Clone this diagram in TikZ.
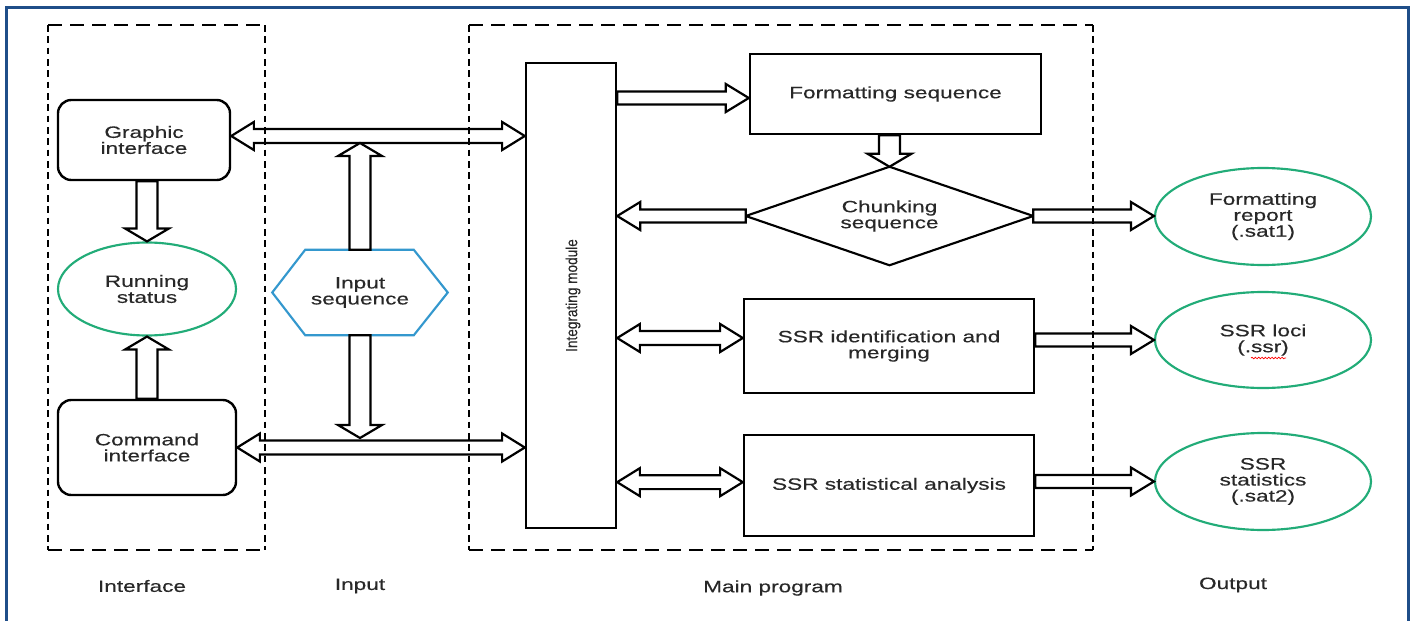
\documentclass[tikz,border=0pt]{standalone}
\usepackage{fontspec}
\setmainfont{Liberation Sans}[FakeStretch=1.38, FakeBold=0.35]
\newfontfamily\narrowf{Liberation Sans}[FakeStretch=0.85, FakeBold=0.3]
\usetikzlibrary{calc,shapes.geometric,decorations.pathmorphing}
\definecolor{frameblue}{RGB}{31,78,137}
\definecolor{okgreen}{RGB}{34,172,120}
\definecolor{hexblue}{RGB}{52,152,206}
\definecolor{txt}{RGB}{40,40,40}
\tikzset{
  blockarrow/.style={draw=black, fill=white, line width=1.65pt, line join=miter},
  pbox/.style={draw=black, line width=1.8pt},
  rbox/.style={draw=black, line width=1.8pt, rounded corners=10pt},
  oval/.style={ellipse, draw=okgreen, line width=1.6pt, minimum width=162pt, minimum height=72.75pt},
  hdash/.style={line width=2.1pt, dash pattern=on 10.5pt off 6pt},
  vdash/.style={line width=2.1pt, dash pattern=on 5pt off 3.5pt},
}
% single-headed block arrow: from, to, shaft half-width, head half-width, head length
\newcommand\onearrow[5]{%
  \coordinate (baA) at #1;
  \coordinate (baB) at #2;
  \coordinate (baH) at ($(baB)!#5!(baA)$);
  \draw[blockarrow] ($(baA)!#3!90:(baB)$) -- ($(baH)!#3!-90:(baA)$) -- ($(baH)!#4!-90:(baA)$)
    -- (baB) -- ($(baH)!#4!90:(baA)$) -- ($(baH)!#3!90:(baA)$) -- ($(baA)!#3!-90:(baB)$) -- cycle;
}
% double-headed block arrow
\newcommand\twoarrow[5]{%
  \coordinate (baA) at #1;
  \coordinate (baB) at #2;
  \coordinate (baH) at ($(baB)!#5!(baA)$);
  \coordinate (baG) at ($(baA)!#5!(baB)$);
  \draw[blockarrow] (baA) -- ($(baG)!#4!90:(baB)$) -- ($(baG)!#3!90:(baB)$)
    -- ($(baH)!#3!-90:(baA)$) -- ($(baH)!#4!-90:(baA)$) -- (baB)
    -- ($(baH)!#4!90:(baA)$) -- ($(baH)!#3!90:(baA)$)
    -- ($(baG)!#3!-90:(baB)$) -- ($(baG)!#4!-90:(baB)$) -- cycle;
}
\newcommand\harrow[2]{\onearrow{#1}{#2}{4.9pt}{10.5pt}{17.25pt}}
\newcommand\hdarrow[2]{\twoarrow{#1}{#2}{5.2pt}{10.5pt}{17pt}}
\newcommand\varrow[2]{\onearrow{#1}{#2}{7.9pt}{16.5pt}{9.75pt}}
\newcommand\dn[1]{\raisebox{-1.5pt}{#1}}
\begin{document}
\begin{tikzpicture}[x=0.75pt, y=-0.75pt,
  every node/.style={inner sep=0pt, text=txt, align=center, font=\fontsize{12.3}{12}\selectfont}]
\useasboundingbox (0,0) rectangle (1411,621);
\fill[white] (0,0) rectangle (1411,621);

% nodes
\node[rbox, minimum width=129pt, minimum height=60pt] (gi) at (144,140) {\dn{Graphic}\\\dn{interface}};
\node[oval, minimum width=133.5pt, minimum height=69.75pt] (rs) at (147,289) {Running\\status};
\node[rbox, minimum width=133.5pt, minimum height=71.25pt] (ci) at (147,447.5) {Command\\interface};
\node[minimum width=131.25pt, minimum height=63.75pt] (hex) at (360,292.5) {Input\\sequence};
\draw[hexblue, line width=1.6pt] ([xshift=24.75pt]hex.north west) -- ([xshift=-25.5pt]hex.north east)
  -- (hex.east) -- ([xshift=-25.5pt]hex.south east) -- ([xshift=24.75pt]hex.south west) -- (hex.west) -- cycle;
\node[pbox, minimum width=67.5pt, minimum height=348.75pt] (im) at (571,295.5) {};
\node[rotate=90, font=\narrowf\fontsize{12}{12}\selectfont] (imt) at ([xshift=1.5pt]im.center) {Integrating module};
\node[pbox, minimum width=218.25pt, minimum height=60pt] (fs) at (895.5,94) {Formatting sequence};
\node[minimum width=215.25pt, minimum height=73.5pt] (ch) at (889.5,216) {Chunking\\sequence};
\draw[line width=1.6pt, line join=miter] (ch.north) -- (ch.east) -- (ch.south) -- (ch.west) -- cycle;
\node[pbox, minimum width=217.5pt, minimum height=70.5pt] (si) at (889,346) {SSR identification and\\merging};
\node[pbox, minimum width=217.5pt, minimum height=75.75pt] (sa) at (889,485.5) {SSR statistical analysis};
\node[oval] (fr) at (1263,216.5) {\dn{Formatting}\\\dn{report}\\\dn{(.sat1)}};
\node[oval, minimum height=72pt] (sl) at (1263,340) {\dn{SSR loci}\\\dn{(.ssr)}};
\node[oval] (ss) at (1263,481.5) {\dn{SSR}\\\dn{statistics}\\\dn{(.sat2)}};
\draw[red, line width=0.5pt, decorate, decoration={snake, amplitude=0.6pt, segment length=2.5pt}] (1251,358) -- (1286,358);

% column labels
\node (lint) at (142,586) {Interface};
\node (linp) at (360,586) {Input};
\node (lmain) at (773,588) {Main program};
\node (lout) at (1233,585) {Output};

% connectors
\coordinate (gia) at ([yshift=3pt]gi.east);
\hdarrow{(gia)}{(im.west |- gia)}
\hdarrow{(ci.east)}{(im.west |- ci.east)}
\coordinate (gtop) at (360,143);
\coordinate (cbot) at (360,438);
\varrow{(hex.north)}{(gtop)}
\varrow{(hex.south)}{(cbot)}
\varrow{(rs.north |- gi.south)}{(rs.north)}
\varrow{(rs.south |- ci.north)}{(rs.south)}
\coordinate (fsw) at ([yshift=-3pt]fs.west);
\harrow{(im.east |- fsw)}{(fsw)}
\varrow{(fs.south -| ch.north)}{(ch.north)}
\harrow{(ch.west)}{(im.east |- ch.west)}
\harrow{(ch.east)}{(fr.west |- ch.east)}
\coordinate (siw) at ([yshift=6pt]si.west);
\hdarrow{(im.east |- siw)}{(siw)}
\harrow{(si.east |- sl.west)}{(sl.west)}
\coordinate (saw) at ([yshift=2.5pt]sa.west);
\hdarrow{(im.east |- saw)}{(saw)}
\harrow{(sa.east |- ss.west)}{(ss.west)}

% dashed groups
\draw[hdash] (48,25) -- (265,25);
\draw[hdash] (48,550) -- (265,550);
\draw[vdash] (48,25) -- (48,550);
\draw[vdash] (265,25) -- (265,550);
\draw[hdash] (469,25) -- (1093,25);
\draw[hdash] (469,550) -- (1093,550);
\draw[vdash] (469,25) -- (469,550);
\draw[vdash] (1093,25) -- (1093,550);

% frame
\draw[frameblue, line width=2.25pt] (6,625) -- (6,7) -- (1408,7) -- (1408,625);
\end{tikzpicture}
\end{document}
